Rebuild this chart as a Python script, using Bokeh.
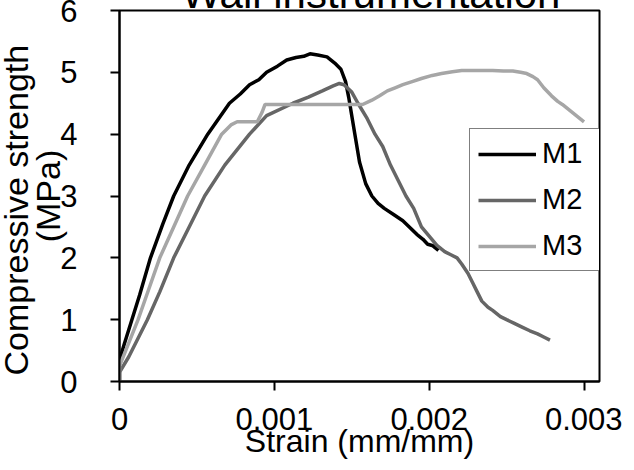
from bokeh.plotting import figure
from bokeh.models import Range1d, FixedTicker, Legend, LegendItem
from bokeh.embed import file_html
from bokeh.resources import INLINE

# ---------------- data ----------------
m1_strain = [0, 0, 0.00003, 0.00008, 0.00013, 0.0002, 0.00028, 0.00035, 0.00045, 0.00057,
             0.00064, 0.00071, 0.00078, 0.00084, 0.0009, 0.00095, 0.00102, 0.00108, 0.00114,
             0.00119, 0.00123, 0.00128, 0.00134, 0.00139, 0.00143, 0.00146, 0.00148, 0.00152,
             0.00155, 0.00159, 0.00163, 0.00167, 0.00171, 0.00177, 0.00183, 0.00188, 0.00192,
             0.00196, 0.00199, 0.00202, 0.00206]
m1_stress = [0, 0.35, 0.6, 1.0, 1.4, 2.0, 2.55, 3.0, 3.5, 4.0,
             4.25, 4.5, 4.65, 4.8, 4.88, 5.0, 5.1, 5.2, 5.24,
             5.26, 5.3, 5.28, 5.25, 5.15, 5.05, 4.85, 4.6, 4.0,
             3.55, 3.2, 3.0, 2.88, 2.8, 2.7, 2.6, 2.48, 2.38,
             2.3, 2.22, 2.2, 2.12]

m2_strain = [0, 0, 0.00006, 0.00012, 0.00018, 0.00026, 0.00035, 0.00045, 0.00055, 0.00068,
             0.00084, 0.00095, 0.00112, 0.00122, 0.00131, 0.00138, 0.00142, 0.00145, 0.0015,
             0.00154, 0.0016, 0.00165, 0.0017, 0.00175, 0.0018, 0.00185, 0.0019, 0.00195,
             0.002, 0.00205, 0.0021, 0.00214, 0.00218, 0.00221, 0.00225, 0.00228, 0.00231,
             0.00234, 0.00238, 0.00241, 0.00246, 0.0025, 0.00255, 0.0026, 0.00265, 0.0027,
             0.00274, 0.00278]
m2_stress = [0, 0.15, 0.4, 0.7, 1.0, 1.45, 2.0, 2.5, 3.0, 3.5,
             4.0, 4.3, 4.5, 4.6, 4.7, 4.78, 4.82, 4.8, 4.68,
             4.5, 4.25, 4.0, 3.8, 3.5, 3.25, 3.0, 2.8, 2.5,
             2.35, 2.2, 2.1, 2.05, 2.0, 1.9, 1.75, 1.6, 1.45,
             1.3, 1.2, 1.15, 1.05, 1.0, 0.94, 0.88, 0.82, 0.77,
             0.72, 0.67]

m3_strain = [0, 0, 0.00004, 0.00008, 0.00012, 0.00019, 0.00026, 0.00035, 0.00044, 0.00055,
             0.00066, 0.00072, 0.00076, 0.00083, 0.00089, 0.00092, 0.00094, 0.0011, 0.0013,
             0.00157, 0.00163, 0.00168, 0.00173, 0.00178, 0.00183, 0.00189, 0.00195, 0.00202,
             0.00208, 0.00215, 0.00221, 0.0023, 0.00241, 0.00248, 0.00254, 0.00259, 0.00263,
             0.00267, 0.0027, 0.00274, 0.00279, 0.00283, 0.00286, 0.0029, 0.00295, 0.003]
m3_stress = [0, 0.25, 0.5, 0.75, 1.0, 1.5, 2.0, 2.5, 3.0, 3.5,
             4.0, 4.15, 4.2, 4.2, 4.2, 4.35, 4.48, 4.48, 4.48,
             4.48, 4.55, 4.62, 4.7, 4.75, 4.8, 4.85, 4.9, 4.95,
             4.98, 5.01, 5.03, 5.03, 5.03, 5.02, 5.02, 5.0, 4.98,
             4.93, 4.88, 4.75, 4.62, 4.53, 4.48, 4.4, 4.3, 4.2]

series_names = ["M1", "M2", "M3"]
x_ticks = [0, 0.001, 0.002, 0.003]
x_tick_labels = ["0", "0.001", "0.002", "0.003"]
y_ticks = [0, 1, 2, 3, 4, 5, 6]

title_text = "Wall instrumentation"
x_title = "Strain (mm/mm)"
y_title = "Compressive strength\u00a0\u00a0\u00a0\n(MPa)"

# ---------------- figure ----------------
FONT = "Liberation Sans"
SHIFT = 22                 # figure is pulled up so the title is cut by the window top
FL, FT = 127, 18 + SHIFT   # frame left / top inside the figure
FW, FH = 480, 371          # frame size
BB = 94                    # bottom border
W = 630
H = FT + FH + BB
p = figure(width=W, height=H, output_backend="svg", toolbar_location=None,
           x_range=Range1d(0, 0.0031), y_range=Range1d(0, 6),
           min_border_left=FL, min_border_right=W - FL - FW,
           min_border_top=FT, min_border_bottom=BB,
           margin=(-8 - SHIFT, 0, -36, -8))
p.background_fill_color = "white"
p.border_fill_color = "white"
p.xgrid.visible = False
p.ygrid.visible = False
p.outline_line_color = "black"
p.outline_line_width = 2
p.outline_line_alpha = 1

p.title.text = title_text
p.title.text_font = FONT
p.title.text_font_size = "42px"
p.title.text_font_style = "normal"
p.title.text_color = "black"
p.title.align = "left"
p.title.offset = 62
p.title.vertical_align = "bottom"
p.title.standoff = -13

for ax in (p.xaxis[0], p.yaxis[0]):
    ax.axis_line_width = 2
    ax.axis_line_color = "black"
    ax.major_tick_in = 0
    ax.major_tick_out = 9
    ax.major_tick_line_width = 2
    ax.major_tick_line_color = "black"
    ax.minor_tick_line_color = None
    ax.major_label_text_font = FONT
    ax.major_label_text_font_size = "31px"
    ax.major_label_text_color = "black"
    ax.axis_label_text_font = FONT
    ax.axis_label_text_font_style = "normal"
    ax.axis_label_text_color = "black"

p.xaxis.ticker = FixedTicker(ticks=x_ticks)
p.xaxis.major_label_overrides = dict(zip(x_ticks, x_tick_labels))
p.xaxis.major_label_standoff = 17
p.xaxis.axis_label = x_title
p.xaxis.axis_label_text_font_size = "32px"
p.xaxis.axis_label_standoff = -10

p.yaxis.ticker = FixedTicker(ticks=y_ticks)
p.yaxis.major_label_standoff = 33
p.yaxis.axis_label = y_title
p.yaxis.axis_label_text_font_size = "34px"
p.yaxis.axis_label_text_line_height = 0.85
p.yaxis.axis_label_standoff = -10

colors = ["black", "#666666", "#a6a6a6"]
r1 = p.line(m1_strain, m1_stress, line_width=3.5, line_color=colors[0])
r2 = p.line(m2_strain, m2_stress, line_width=3.5, line_color=colors[1])
r3 = p.line(m3_strain, m3_stress, line_width=3.5, line_color=colors[2])

legend = Legend(items=[LegendItem(label=n, renderers=[r]) for n, r in zip(series_names, [r1, r2, r3])],
                location=(350, FH - 123 - 138), orientation="vertical",
                border_line_color="black", border_line_width=1,
                background_fill_color="white", background_fill_alpha=1,
                padding=8, spacing=13, margin=0,
                glyph_width=58, glyph_height=32, label_height=32, label_width=50,
                label_standoff=6,
                label_text_font=FONT, label_text_font_size="29px", label_text_color="black")
p.add_layout(legend)

open("out.html", "w").write(file_html(p, INLINE))
